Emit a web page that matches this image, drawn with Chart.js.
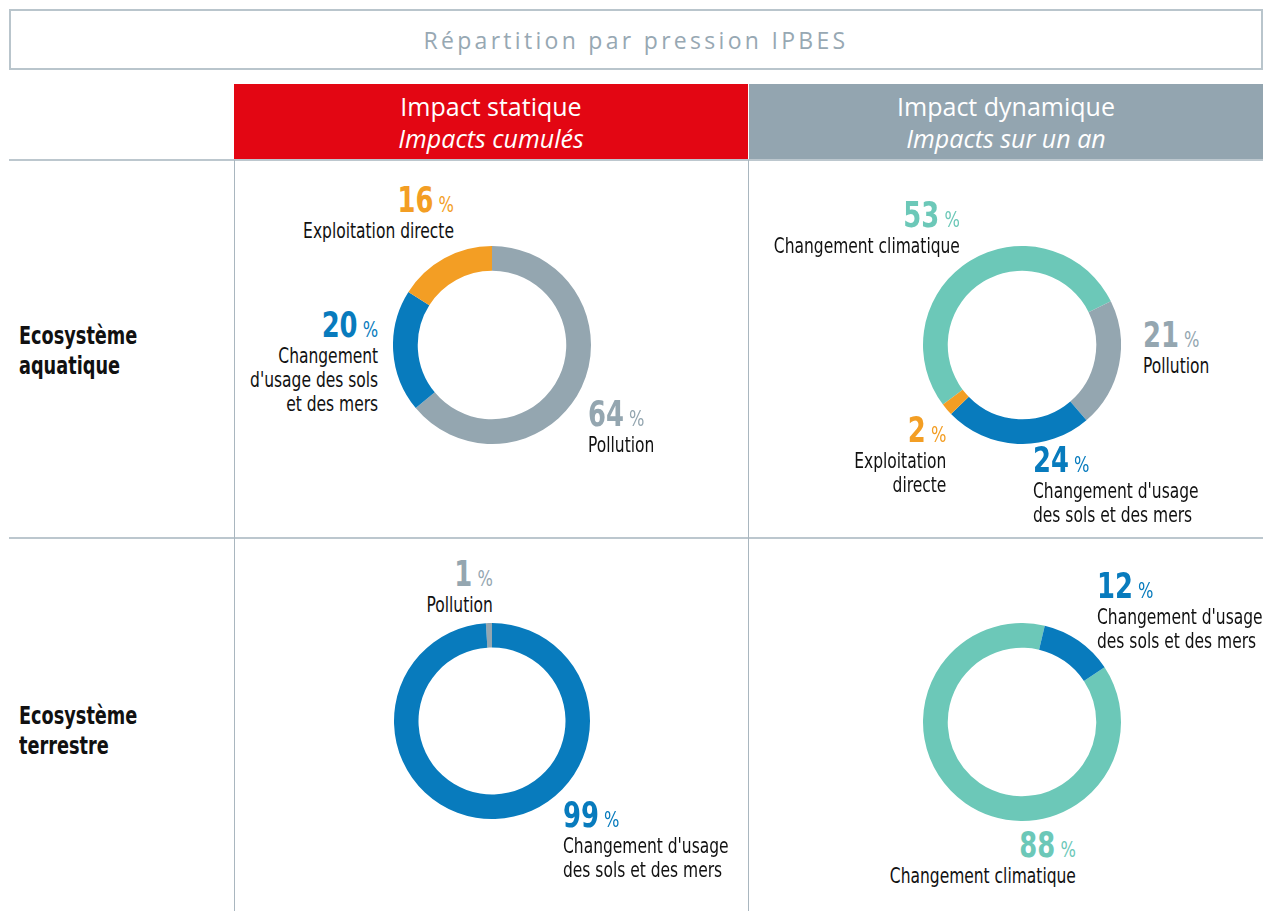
<!DOCTYPE html>
<html>
<head>
<meta charset="utf-8">
<script src="https://cdn.jsdelivr.net/npm/chart.js@4.4.1/dist/chart.umd.min.js"></script>
<style>
  body { margin: 0; background: #fff; width: 1271px; height: 911px; position: relative; overflow: hidden; }
  .abs { position: absolute; }
  #title {
    left: 9px; top: 9px; width: 1250px; height: 55px;
    border: 2px solid #b9c5cc;
    font-family: "Open Sans", sans-serif; font-size: 23px; letter-spacing: 3.3px;
    color: #97a8b3; text-align: center; line-height: 55px; padding-top: 2px; box-sizing: content-box;
  }
  .head {
    top: 84px; height: 75px; color: #fff; text-align: center;
    font-family: "Open Sans", sans-serif; font-size: 25px; line-height: 32px;
    padding-top: 6px; box-sizing: border-box;
  }
  .head i { display: block; }
  .hline { height: 2px; background: #bcc7ce; left: 9px; width: 1254px; }
  .vline { width: 1px; background: #a9b6bf; top: 160px; height: 751px; }
  .row {
    left: 19px; font-family: "Liberation Sans Narrow", "DejaVu Sans Condensed", sans-serif;
    font-weight: bold; font-size: 24px; line-height: 30px; color: #111;
    transform: scaleX(0.82); transform-origin: left top;
  }
  .lab { font-family: "Liberation Sans Narrow", "DejaVu Sans Condensed", sans-serif; color: #111; white-space: nowrap; }
  .lab .num { font-size: 35px; line-height: 35px; font-weight: bold; }
  .lab .num span { font-size: 22px; font-weight: normal; }
  .lab .txt { font-size: 21px; line-height: 24px; margin-top: -3px; }
  canvas { position: absolute; }
</style>
</head>
<body>
<div id="title" class="abs">Répartition par pression IPBES</div>
<div class="abs head" style="left:234px;width:514px;background:#e30613;">Impact statique<i>Impacts cumulés</i></div>
<div class="abs head" style="left:749px;width:514px;background:#93a5b0;">Impact dynamique<i>Impacts sur un an</i></div>
<div class="abs hline" style="top:159px;"></div>
<div class="abs hline" style="top:537px;"></div>
<div class="abs vline" style="left:234px;"></div>
<div class="abs vline" style="left:748px;"></div>
<div class="abs row" style="top:321px;">Ecosystème<br>aquatique</div>
<div class="abs row" style="top:701px;">Ecosystème<br>terrestre</div>

<canvas id="c1" width="198" height="198" style="left:393px;top:246px;"></canvas>
<canvas id="c2" width="198" height="198" style="left:923px;top:246px;"></canvas>
<canvas id="c3" width="196" height="196" style="left:394px;top:623px;"></canvas>
<canvas id="c4" width="198" height="198" style="left:923px;top:623px;"></canvas>

<script>
// categories (same order in every doughnut)
const categories = ["Changement climatique", "Pollution", "Changement d'usage des sols et des mers", "Exploitation directe"]
const colors = ["#6cc8b8", "#94a6b0", "#087bbd", "#f39e24"]

// values in %
const statiqueAquatique = [0, 64, 20, 16]
const dynamiqueAquatique = [53, 21, 24, 2]
const statiqueTerrestre = [0, 1, 99, 0]
const dynamiqueTerrestre = [88, 0, 12, 0]

function buildDonut(id, values, rotation) {
    new Chart(id, {
        type: "doughnut",
        data: {
            labels: categories,
            datasets: [{
                data: values,
                backgroundColor: colors,
                borderWidth: 0,
            }]
        },
        options: {
            responsive: false,
            animation: false,
            cutout: "75%",
            rotation: rotation,
            layout: { padding: 0 },
            plugins: {
                legend: { display: false },
                tooltip: { enabled: false }
            }
        }
    })
}

buildDonut("c1", statiqueAquatique, 0)
buildDonut("c2", dynamiqueAquatique, -127)
buildDonut("c3", statiqueTerrestre, -3.6)
buildDonut("c4", dynamiqueTerrestre, 56.5)

// label placement: which category, anchor x, top y, side, line breaks
const labelSpots = [
    { values: statiqueAquatique, i: 3, x: 454, y: 183, align: "right", lines: ["Exploitation directe"] },
    { values: statiqueAquatique, i: 2, x: 378, y: 308, align: "right", lines: ["Changement", "d'usage des sols", "et des mers"] },
    { values: statiqueAquatique, i: 1, x: 588, y: 397, align: "left", lines: ["Pollution"] },
    { values: dynamiqueAquatique, i: 0, x: 960, y: 198, align: "right", lines: ["Changement climatique"] },
    { values: dynamiqueAquatique, i: 1, x: 1143, y: 318, align: "left", lines: ["Pollution"] },
    { values: dynamiqueAquatique, i: 3, x: 946, y: 413, align: "right", lines: ["Exploitation", "directe"] },
    { values: dynamiqueAquatique, i: 2, x: 1033, y: 443, align: "left", lines: ["Changement d'usage", "des sols et des mers"] },
    { values: statiqueTerrestre, i: 1, x: 493, y: 557, align: "right", lines: ["Pollution"] },
    { values: statiqueTerrestre, i: 2, x: 563, y: 798, align: "left", lines: ["Changement d'usage", "des sols et des mers"] },
    { values: dynamiqueTerrestre, i: 2, x: 1097, y: 569, align: "left", lines: ["Changement d'usage", "des sols et des mers"] },
    { values: dynamiqueTerrestre, i: 0, x: 1076, y: 828, align: "right", lines: ["Changement climatique"] },
]

labelSpots.forEach(s => {
    const d = document.createElement("div")
    d.className = "abs lab"
    d.style.top = s.y + "px"
    d.style.textAlign = s.align
    d.style.transform = "scaleX(0.82)"
    d.style.transformOrigin = s.align + " top"
    if (s.align === "right") d.style.right = (1271 - s.x) + "px"
    else d.style.left = s.x + "px"
    const num = document.createElement("div")
    num.className = "num"
    num.style.color = colors[s.i]
    num.innerHTML = s.values[s.i] + "<span> %</span>"
    d.appendChild(num)
    const txt = document.createElement("div")
    txt.className = "txt"
    txt.innerHTML = s.lines.join("<br>")
    d.appendChild(txt)
    document.body.appendChild(d)
})
</script>
</body>
</html>
